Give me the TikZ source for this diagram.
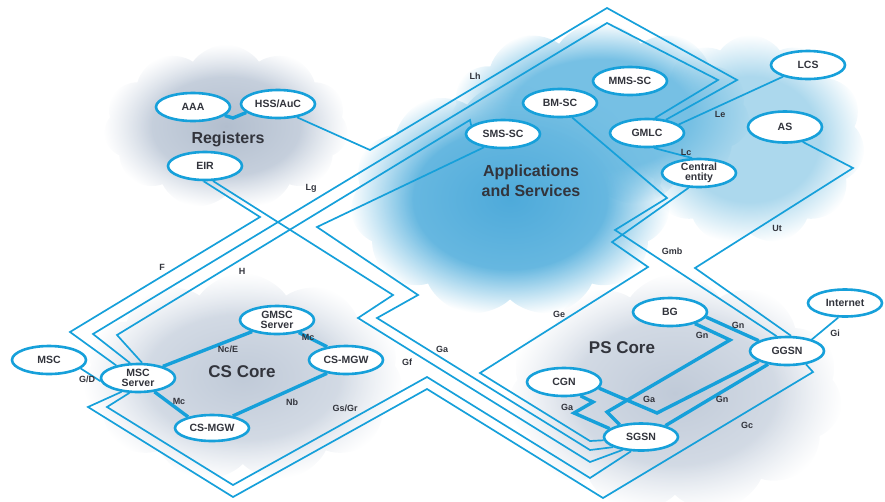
\documentclass[tikz,border=0pt]{standalone}
\usepackage{fontspec}
\setmainfont{Liberation Sans}
\usetikzlibrary{shapes.geometric,shapes.symbols,fadings}
\definecolor{netblue}{RGB}{22,160,218}
\definecolor{txtgray}{RGB}{50,52,60}
\definecolor{regin}{RGB}{178,190,206}
\definecolor{regout}{RGB}{210,218,229}
\definecolor{appdark}{RGB}{78,170,218}
\definecolor{appmid}{RGB}{118,192,228}
\definecolor{appfar}{RGB}{172,216,237}
\definecolor{corein}{RGB}{192,202,216}
\definecolor{coreout}{RGB}{222,228,236}
\pgfdeclareradialshading{softedgeshade}{\pgfpoint{0bp}{0bp}}{color(0bp)=(white); color(15bp)=(white); color(25bp)=(black); color(50bp)=(black)}
\pgfdeclarefading{softedge}{\pgfuseshading{softedgeshade}}
\pgfdeclarelayer{clouds}
\pgfdeclarelayer{wires}
\pgfsetlayers{clouds,wires,main}
\begin{document}
\begin{tikzpicture}[x=1pt,y=-1pt,
    unit/.style={ellipse, draw=netblue, line width=2.6pt, fill=white,
      minimum width=74pt, minimum height=28pt, inner sep=0pt, align=center,
      font=\fontsize{10.5}{10}\selectfont\bfseries, text=txtgray},
    link/.style={draw=netblue, line width=1.7pt},
    corelink/.style={draw=netblue, line width=3.4pt},
    iface/.style={font=\fontsize{9}{9}\selectfont\bfseries, text=txtgray, inner sep=0pt},
    area/.style={font=\fontsize{17}{20}\selectfont\bfseries, text=txtgray, align=center},
    puff/.style={cloud, cloud puffs=11, cloud puff arc=110, cloud ignores aspect,
      inner sep=0pt, path fading=softedge}]
  \useasboundingbox (0,0) rectangle (885,501);

  \begin{pgfonlayer}{clouds}
    \node[puff, shade, inner color=regin, outer color=regout, minimum width=245pt, minimum height=165pt] (regcloud) at (226,127) {};
    \node[puff, fill=appfar, minimum width=230pt, minimum height=210pt] (appcloudc) at (750,140) {};
    \node[puff, fill=appmid, minimum width=300pt, minimum height=185pt] (appcloudb) at (600,115) {};
    \node[puff, shade, inner color=appdark, outer color=appmid, minimum width=320pt, minimum height=235pt] (appclouda) at (510,200) {};
    \node[puff, shade, inner color=corein, outer color=coreout, minimum width=320pt, minimum height=210pt] (cscloud) at (243,378) {};
    \node[puff, shade, inner color=corein, outer color=coreout, minimum width=335pt, minimum height=240pt] (pscloud) at (675,394) {};
  \end{pgfonlayer}

  % registers
  \node[unit] (AAA) at (193,107) {AAA};
  \node[unit] (HSS) at (278,104) {HSS/AuC};
  \node[unit] (EIR) at (205,166) {EIR};
  \node[area, font=\fontsize{16}{18}\selectfont\bfseries] (regtitle) at (228,139) {Registers};

  % applications and services
  \node[unit] (SMSSC) at (503,134) {SMS-SC};
  \node[unit] (BMSC) at (560,103) {BM-SC};
  \node[unit] (MMSSC) at (630,81) {MMS-SC};
  \node[unit] (GMLC) at (647,133) {GMLC};
  \node[unit] (CE) at (699,173) {Central\\entity};
  \node[unit] (LCS) at (808,65) {LCS};
  \node[unit, minimum height=31pt] (AS) at (785,127) {AS};
  \node[area, font=\fontsize{16}{20}\selectfont\bfseries] (apptitle) at (531,181) {Applications\\and Services};

  % CS core
  \node[unit] (MSC) at (49,360) {MSC};
  \node[unit] (MSCS) at (138,378) {MSC\\Server};
  \node[unit] (GMSCS) at (277,320) {GMSC\\Server};
  \node[unit] (MGWr) at (346,360) {CS-MGW};
  \node[unit, minimum height=26pt] (MGWb) at (212,428) {CS-MGW};
  \node[area] (cstitle) at (242,372) {CS Core};

  % PS core
  \node[unit] (BG) at (670,312) {BG};
  \node[unit, minimum height=27pt] (Internet) at (845,303) {Internet};
  \node[unit] (GGSN) at (787,351) {GGSN};
  \node[unit] (CGN) at (564,382) {CGN};
  \node[unit, minimum height=27pt] (SGSN) at (641,437) {SGSN};
  \node[area] (pstitle) at (622,348) {PS Core};

  \begin{pgfonlayer}{wires}
    \draw[corelink] (AAA.-15) -- (233,118) -- (HSS.195);
    \draw[link] (HSS.-35) -- (370,150) -- (607,8) -- (737,80) -- (GMLC.35);
    \draw[link] (MSCS.118) -- (93,334) -- (607,23) -- (718,80) -- (GMLC.62);
    \draw[link] (MSCS.150) -- (70,332) -- (260,217) -- (EIR.-95);
    \draw[link] (MSCS.75) -- (117,335) -- (470,120) -- (SMSSC.165);
    \draw[link] (EIR.-62) -- (393,295) -- (358,318) -- (590,462) -- (SGSN.215);
    \draw[link] (SMSSC.215) -- (317,227) -- (418,295) -- (377,318) -- (590,450) -- (SGSN.200);
    \draw[link] (CE.-125) -- (612,242) -- (648,267) -- (480,373) -- (590,441) -- (SGSN.185);
    \draw[link] (BMSC.-50) -- (667,198) -- (615,230) -- (GGSN.125);
    \draw[link] (AS.-40) -- (853,168) -- (695,268) -- (GGSN.75);
    \draw[link] (GMLC.15) -- (LCS.205);
    \draw[link] (GMLC.-65) -- (CE.115);
    \draw[link] (MSC.-15) -- (MSCS.185);
    \draw[link] (MSCS.240) -- (107,407) -- (233,485) -- (427,377) -- (590,478) -- (SGSN.235);
    \draw[link] (MSCS.220) -- (88,407) -- (233,497) -- (427,389) -- (603,498) -- (813,372) -- (GGSN.-35);
    \draw[link] (GGSN.25) -- (Internet.-115);
    % CS core links
    \draw[corelink] (MSCS.25) -- (GMSCS.205);
    \draw[corelink] (GMSCS.-30) -- (MGWr.145);
    \draw[corelink] (MGWr.-145) -- (MGWb.30);
    \draw[corelink] (MSCS.-40) -- (MGWb.155);
    % PS core links
    \draw[corelink] (BG.-8) -- (GGSN.160);
    \draw[corelink] (BG.-25) -- (730,340) -- (607,412) -- (SGSN.150);
    \draw[corelink] (CGN.-10) -- (657,413) -- (GGSN.-160);
    \draw[corelink] (GGSN.-145) -- (SGSN.25);
    \draw[corelink] (CGN.-40) -- (593,402) -- (574,413) -- (SGSN.165);
  \end{pgfonlayer}

  % interface names
  \node[iface] (lLh) at (475,76) {Lh};
  \node[iface] (lLg) at (311,188) {Lg};
  \node[iface] (lF) at (162,267) {F};
  \node[iface] (lH) at (242,271) {H};
  \node[iface] (lGD) at (87,379) {G/D};
  \node[iface] (lNcE) at (228,349) {Nc/E};
  \node[iface] (lMc1) at (308,337) {Mc};
  \node[iface] (lMc2) at (179,401) {Mc};
  \node[iface] (lNb) at (292,402) {Nb};
  \node[iface] (lGsGr) at (345,408) {Gs/Gr};
  \node[iface] (lGf) at (407,362) {Gf};
  \node[iface] (lGa1) at (442,349) {Ga};
  \node[iface] (lGe) at (559,314) {Ge};
  \node[iface] (lGmb) at (672,251) {Gmb};
  \node[iface] (lUt) at (777,228) {Ut};
  \node[iface] (lLe) at (720,114) {Le};
  \node[iface] (lLc) at (686,152) {Lc};
  \node[iface] (lGn1) at (738,325) {Gn};
  \node[iface] (lGn2) at (702,335) {Gn};
  \node[iface] (lGa2) at (649,399) {Ga};
  \node[iface] (lGn3) at (722,399) {Gn};
  \node[iface] (lGa3) at (567,407) {Ga};
  \node[iface] (lGc) at (747,425) {Gc};
  \node[iface] (lGi) at (835,333) {Gi};
\end{tikzpicture}
\end{document}
